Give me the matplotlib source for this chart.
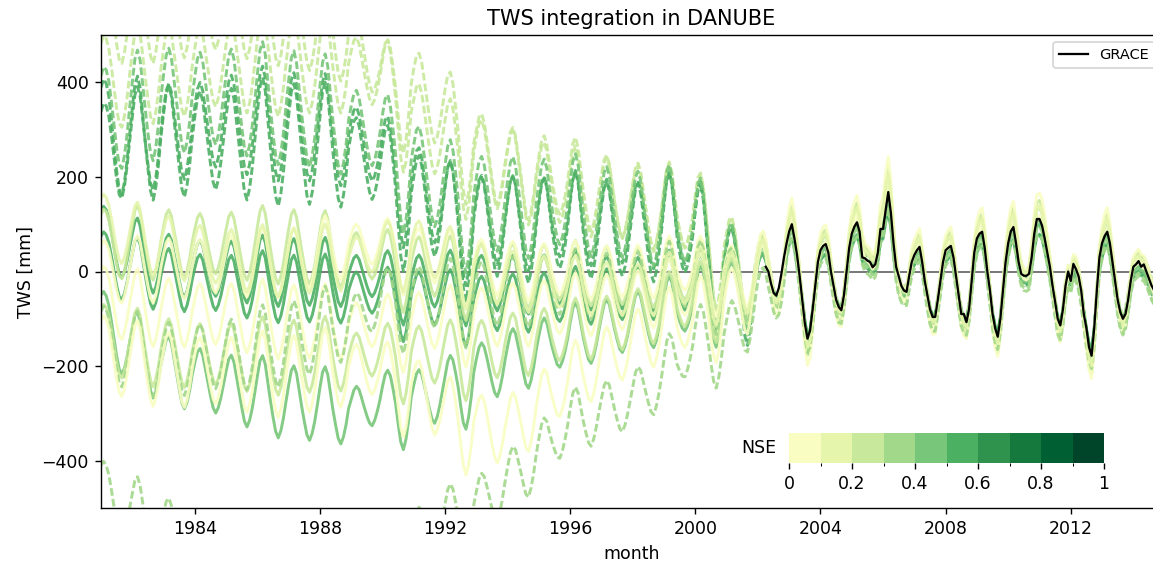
import numpy as np
import matplotlib.pyplot as plt
from matplotlib import colors, cm

# monthly time axis, Jan 1981 .. Dec 2014
years = list(range(1981, 2015))
t = np.array([y + m / 12 for y in years for m in range(12)])

# common seasonal / interannual TWS anomaly (mm), Jan..Dec of each year
signal = {
    1981: [55, 65, 60, 45, 18, -12, -42, -64, -70, -55, -30, 2],
    1982: [32, 60, 70, 56, 25, -8, -38, -64, -75, -60, -34, 0],
    1983: [27, 51, 60, 48, 21, -7, -35, -60, -70, -56, -32, 0],
    1984: [25, 47, 55, 44, 19, -6, -30, -51, -60, -48, -27, 0],
    1985: [27, 51, 60, 48, 21, -7, -35, -60, -70, -56, -32, 0],
    1986: [34, 64, 75, 60, 26, -8, -38, -64, -75, -60, -34, 0],
    1987: [32, 60, 70, 56, 25, -7, -35, -60, -70, -56, -32, 0],
    1988: [34, 64, 75, 60, 26, -7, -35, -60, -70, -56, -32, 0],
    1989: [18, 34, 40, 32, 14, -5, -23, -38, -45, -36, -20, 0],
    1990: [25, 47, 55, 44, 19, -10, -50, -85, -100, -80, -45, 0],
    1991: [23, 43, 50, 40, 18, -6, -30, -51, -60, -48, -27, 0],
    1992: [27, 51, 60, 48, 21, -10, -50, -85, -100, -80, -45, 0],
    1993: [23, 43, 50, 40, 18, -7, -33, -55, -65, -52, -29, 0],
    1994: [25, 47, 55, 44, 19, -7, -35, -60, -70, -56, -32, 0],
    1995: [25, 47, 55, 44, 19, -5, -25, -43, -50, -40, -23, 0],
    1996: [29, 55, 65, 52, 23, -6, -30, -51, -60, -48, -27, 0],
    1997: [25, 47, 55, 44, 19, -6, -28, -47, -55, -44, -25, 0],
    1998: [25, 47, 55, 44, 19, -6, -30, -51, -60, -48, -27, 0],
    1999: [32, 60, 70, 56, 25, -5, -23, -38, -45, -36, -20, 0],
    2000: [32, 60, 70, 56, 25, -10, -50, -85, -100, -80, -45, 0],
    2001: [25, 45, 50, 35, 10, -20, -50, -75, -85, -65, -35, 0],
    2002: [30, 50, 55, 40, 10, -15, -45, -60, -55, -30, 10, 55],
    2003: [85, 100, 75, 35, -10, -60, -110, -142, -130, -85, -30, 20],
    2004: [45, 55, 58, 40, 5, -30, -60, -78, -80, -50, 0, 50],
    2005: [80, 95, 104, 85, 45, 30, 25, 20, 12, 18, 45, 90],
    2006: [100, 140, 165, 125, 60, 10, -20, -35, -42, -42, -10, 20],
    2007: [35, 45, 52, 25, -15, -50, -80, -96, -96, -60, -20, 20],
    2008: [42, 50, 55, 30, -10, -50, -85, -100, -105, -75, -20, 35],
    2009: [65, 80, 85, 55, 5, -40, -90, -120, -135, -100, -40, 20],
    2010: [60, 85, 95, 65, 25, 0, -10, -12, -8, 30, 75, 105],
    2011: [108, 98, 72, 42, 10, -28, -64, -100, -114, -82, -32, -5],
    2012: [-15, 12, 8, -10, -40, -85, -125, -160, -175, -125, -45, 25],
    2013: [55, 75, 85, 60, 20, -20, -60, -88, -100, -88, -58, -20],
    2014: [8, 15, 20, 12, 10, 0, -15, -30, -40, -35, -20, 0],
}
sig = np.concatenate([signal[y] for y in years]).astype(float)

# GRACE TWS anomaly, monthly from Apr 2002
grace = [10, 0, -25, -45, -51, -35, -5, 30, 60,
         85, 100, 70, 35, -10, -60, -110, -142, -125, -80, -30, 20,
         45, 54, 58, 40, 0, -30, -60, -75, -82, -50, 0, 50,
         80, 95, 104, 84, 30, 28, 23, 20, 9, 15, 40, 90,
         90, 130, 168, 124, 60, 10, -10, -30, -40, -43, -10, 20,
         35, 45, 52, 20, -20, -50, -80, -96, -96, -60, -20, 20,
         45, 50, 54, 30, -10, -50, -90, -90, -107, -79, -20, 40,
         70, 80, 84, 50, 0, -40, -90, -120, -138, -100, -40, 20,
         60, 85, 94, 60, 20, -5, -9, -9, -5, 30, 80, 111,
         111, 97, 70, 40, 10, -30, -64, -100, -114, -80, -30, 0,
         -20, 16, 5, -10, -40, -90, -120, -160, -178, -120, -40, 30,
         60, 75, 84, 60, 20, -20, -60, -86, -100, -90, -60, -20,
         10, 15, 22, 10, 15, 0, -15, -30, -40, -35, -20, 0]
t_grace = 2002.25 + np.arange(len(grace)) / 12

# integrated model runs: NSE score, run type, amplitude factor and drift levels
anchor_years = [1981, 1983, 1985, 1987, 1989, 1990, 1991, 1992, 1993, 1994,
                1996, 1998, 1999, 2000, 2001, 2002, 2003, 2015]
run_nse = [0.25, 0.22, 0.55, 0.52, 0.45,
           0.55, 0.52, 0.28, 0.05, 0.08,
           0.45, 0.30, 0.35, 0.08, 0.35, 0.15]
run_type = ['B', 'B', 'B', 'B', 'B',
            'A', 'A', 'A', 'A', 'A',
            'A', 'A', 'B', 'A', 'B', 'A']
amp_pre = [1.5, 1.5, 1.8, 1.6, 1.7, 1.0, 1.0, 1.1, 1.0, 1.1, 1.1, 1.1, 1.2, 1.2, 1.1, 1.0]
amp_post = [1.2, 1.1, 0.9, 1.05, 1.0, 0.95, 0.85, 1.25, 1.35, 1.15, 1.0, 1.2, 1.1, 1.3, 1.0, 1.2]
run_levels = [
    [400, 430, 440, 440, 440, 410, 395, 345, 265, 225, 190, 145, 125, 115, 45, 15, 10, 10],
    [540, 555, 560, 545, 500, 420, 330, 280, 250, 220, 170, 150, 130, 110, 40, 10, 15, 20],
    [290, 285, 280, 272, 260, 220, 160, 130, 110, 105, 95, 88, 85, 75, 10, -10, -15, -20],
    [250, 300, 320, 310, 290, 250, 190, 140, 125, 115, 110, 105, 100, 80, 15, 0, -5, -5],
    [320, 370, 370, 350, 320, 290, 230, 180, 160, 150, 140, 120, 110, 90, 20, 5, 5, 0],
    [75, 20, 5, 0, -5, -10, -15, -15, -15, -20, -20, -25, -25, -25, -10, 0, 0, -5],
    [20, -10, -25, -35, -40, -45, -50, -55, -60, -60, -55, -45, -40, -35, -20, -10, -15, -15],
    [60, 65, 60, 55, 40, 30, 20, 10, 5, 0, -5, -10, -10, -10, -5, 5, 15, 15],
    [0, 10, 15, 20, 60, 60, 45, 30, 20, 10, 0, 0, 5, 5, 5, 10, 20, 20],
    [-60, -80, -90, -105, -110, -110, -100, -95, -90, -85, -75, -60, -50, -40, -25, -5, -10, -5],
    [-110, -200, -240, -275, -290, -270, -265, -250, -210, -185, -140, -105, -90, -70, -40, -15, -10, -10],
    [-140, -165, -175, -180, -175, -170, -170, -170, -160, -150, -130, -100, -80, -60, -30, -10, 5, 5],
    [-150, -180, -175, -150, -100, -60, -50, -45, -40, -35, -30, -25, -20, -20, -10, -5, -20, -25],
    [-170, -200, -210, -220, -200, -210, -240, -290, -320, -330, -230, -150, -120, -100, -60, -15, -15, 5],
    [-470, -540, -600, -610, -600, -590, -560, -520, -490, -440, -320, -270, -220, -150, -130, -50, -30, -30],
    [100, 60, 30, 20, 30, 50, 60, 40, 10, -10, -30, -40, -30, -20, -10, 0, 10, 10],
]

# YlGn resampled into ten NSE classes
base = plt.get_cmap('YlGn')
cmap = colors.ListedColormap(base(np.linspace(0.1, 1.0, 10)))
bounds = np.linspace(0, 1, 11)
norm = colors.BoundaryNorm(bounds, cmap.N)
styles = {'A': '-', 'B': (0, (2.6, 1.1))}

fig = plt.figure(figsize=(1153 / 125, 565 / 125), dpi=125)
ax = fig.add_axes([101 / 1153, 57 / 565, 1061 / 1153, 473 / 565])

ax.axhline(0, color='#555555', lw=0.9, zorder=0)
for i in range(len(run_nse)):
    level = np.interp(t, anchor_years, run_levels[i])
    amp = np.where(t < 2002, amp_pre[i], amp_post[i])
    ax.plot(t, level + amp * sig, ls=styles[run_type[i]], lw=1.7,
            color=cmap(norm(run_nse[i])), alpha=0.9)

ax.plot(t_grace, grace, color='k', lw=1.3, label='GRACE', zorder=5)

ax.set_xlim(1981, 2014 + 11 / 12)
ax.set_ylim(-500, 500)
ax.set_xticks([1984, 1988, 1992, 1996, 2000, 2004, 2008, 2012])
ax.set_xticklabels(['1984', '1988', '1992', '1996', '2000', '2004', '2008', '2012'])
ax.set_yticks([-400, -200, 0, 200, 400])
ax.set_xlabel('month')
ax.set_ylabel('TWS [mm]')
ax.set_title('TWS integration in DANUBE')
ax.legend(loc='upper right', fontsize='small')

cax = fig.add_axes([789 / 1153, 102 / 565, 315 / 1153, 30 / 565])
cb = fig.colorbar(cm.ScalarMappable(norm=norm, cmap=cmap), cax=cax,
                  orientation='horizontal', ticks=[0, 0.2, 0.4, 0.6, 0.8, 1])
cb.set_ticklabels(['0', '0.2', '0.4', '0.6', '0.8', '1'])
cb.outline.set_visible(False)
cax.text(-0.04, 0.5, 'NSE', transform=cax.transAxes, ha='right', va='center')

fig.savefig('out.png', dpi=125)
